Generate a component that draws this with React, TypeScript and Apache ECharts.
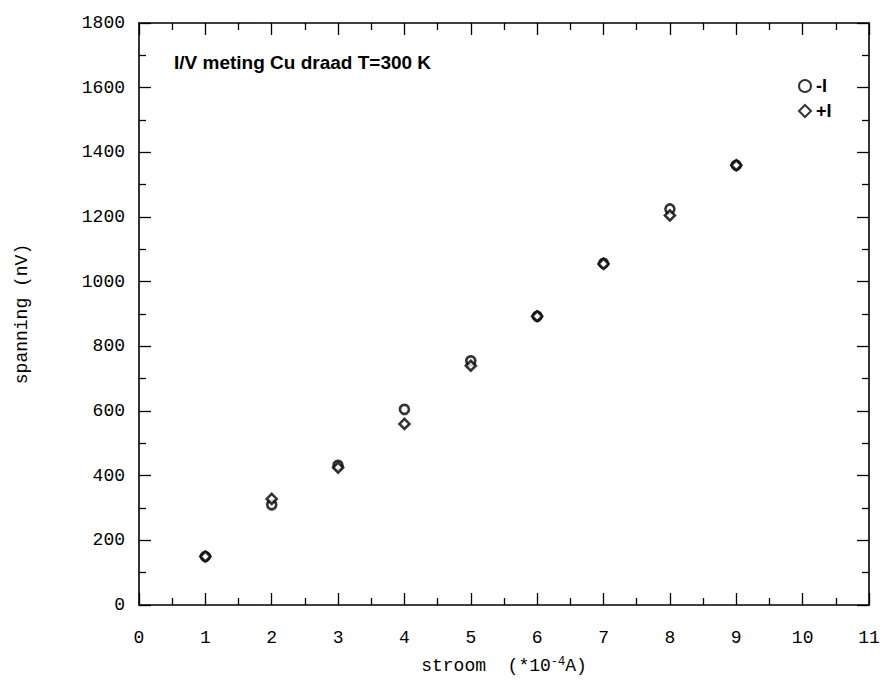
import React, { useEffect, useRef } from "react";
import * as echarts from "echarts";

const stroom = [1, 2, 3, 4, 5, 6, 7, 8, 9];
const minI = [150, 310, 432, 605, 755, 893, 1057, 1225, 1360];
const plusI = [150, 328, 425, 560, 740, 893, 1055, 1205, 1360];
const xTicks = [0, 1, 2, 3, 4, 5, 6, 7, 8, 9, 10, 11];
const yTicks = [0, 200, 400, 600, 800, 1000, 1200, 1400, 1600, 1800];
const titleText = "I/V meting Cu draad T=300 K";

const mono = "Liberation Mono";
const sans = "Liberation Sans";

export default function App() {
  const ref = useRef<HTMLDivElement>(null);
  useEffect(() => {
    if (!ref.current) return;
    const chart = echarts.init(ref.current, null, { renderer: "svg" });
    const axisCommon = {
      axisLine: { show: true, onZero: false, lineStyle: { color: "#000", width: 1.6 } },
      axisTick: { show: true, inside: true, length: 12, lineStyle: { color: "#000", width: 1.3 } },
      minorTick: { show: true, splitNumber: 2, length: 7, lineStyle: { color: "#000", width: 1.3 } },
      splitLine: { show: false },
    };
    const fmt = (v: number) => String(v);
    chart.setOption({
      animation: false,
      backgroundColor: "#fff",
      grid: { left: 139, right: 14, top: 23, bottom: 79 },
      title: {
        text: titleText,
        left: 169,
        top: 48,
        textStyle: { fontFamily: sans, fontSize: 19, fontWeight: "bold", color: "#000" },
      },
      legend: {
        orient: "vertical",
        left: 793,
        top: 72,
        itemWidth: 12,
        itemHeight: 12,
        itemGap: 7,
        textStyle: { fontFamily: sans, fontSize: 18, fontWeight: "bold", color: "#000" },
        data: ["-I", "+I"],
      },
      xAxis: [
        {
          type: "value",
          min: xTicks[0],
          max: xTicks[xTicks.length - 1],
          interval: 1,
          position: "bottom",
          ...axisCommon,
          axisLabel: { fontFamily: mono, fontSize: 18, color: "#000", margin: 24, formatter: fmt },
          name: "stroom  (*10{sup|-4}A)",
          nameLocation: "middle",
          nameGap: 51,
          nameTextStyle: {
            fontFamily: mono,
            fontSize: 18,
            color: "#000",
            rich: { sup: { fontFamily: mono, fontSize: 12, color: "#000", verticalAlign: "top", padding: [0, 0, 8, 0] } },
          },
        },
        {
          type: "value",
          min: xTicks[0],
          max: xTicks[xTicks.length - 1],
          interval: 1,
          position: "top",
          ...axisCommon,
          axisLabel: { show: false },
        },
      ],
      yAxis: [
        {
          type: "value",
          min: yTicks[0],
          max: yTicks[yTicks.length - 1],
          interval: 200,
          position: "left",
          ...axisCommon,
          axisLabel: { fontFamily: mono, fontSize: 18, color: "#000", margin: 14, formatter: fmt },
          name: "spanning (nV)",
          nameLocation: "middle",
          nameGap: 108,
          nameTextStyle: { fontFamily: mono, fontSize: 18, color: "#000" },
        },
        {
          type: "value",
          min: yTicks[0],
          max: yTicks[yTicks.length - 1],
          interval: 200,
          position: "right",
          ...axisCommon,
          axisLabel: { show: false },
        },
      ],
      series: [
        {
          name: "-I",
          type: "scatter",
          symbol: "circle",
          symbolSize: 9,
          itemStyle: { color: "#fff", borderColor: "#000", borderWidth: 2.6 },
          data: stroom.map((x, i) => [x, minI[i]]),
        },
        {
          name: "+I",
          type: "scatter",
          symbol: "diamond",
          symbolSize: 10,
          itemStyle: { color: "#fff", borderColor: "#000", borderWidth: 2.6 },
          data: stroom.map((x, i) => [x, plusI[i]]),
        },
      ],
    });
    return () => chart.dispose();
  }, []);
  return <div ref={ref} style={{ width: 883, height: 684, position: "absolute", left: 0, top: 0 }} />;
}
